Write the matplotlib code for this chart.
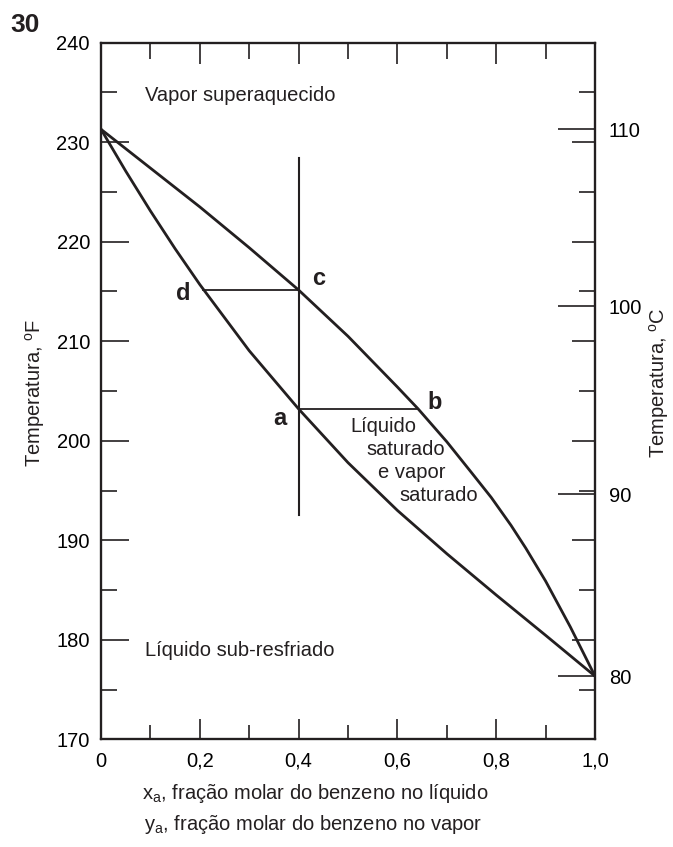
import matplotlib
matplotlib.use("Agg")
import matplotlib.pyplot as plt
from matplotlib.ticker import MultipleLocator

# benzene-toluene T-x-y diagram
# bubble point curve (saturated liquid): x_a, T in F
liq_x = [0.0, 0.05, 0.1, 0.15, 0.2, 0.3, 0.4, 0.5, 0.6, 0.7, 0.8, 0.9, 1.0]
liq_T = [231.3, 227.1, 223.1, 219.3, 215.7, 209.05, 203.2, 197.8, 193.0,
         188.65, 184.5, 180.45, 176.35]
# dew point curve (saturated vapor): y_a, T in F
vap_x = [0.0, 0.1, 0.2, 0.3, 0.4, 0.5, 0.6, 0.642, 0.7, 0.75, 0.79, 0.83,
         0.86, 0.9, 0.95, 1.0]
vap_T = [231.3, 227.4, 223.5, 219.4, 215.15, 210.5, 205.4, 203.2, 199.9,
         196.8, 194.3, 191.5, 189.2, 185.9, 181.3, 176.35]

# tie lines and the vertical composition line
x_feed = 0.4
feed_T = [192.5, 228.4]
tie_dc = ([0.207, 0.4], 215.15)
tie_ab = ([0.4, 0.642], 203.2)

# celsius ticks on the right, placed where the reference has them (in F)
celsius_labels = ["80", "90", "100", "110"]
celsius_at_F = [176.35, 194.6, 213.5, 231.3]

x_ticks = [0, 0.2, 0.4, 0.6, 0.8, 1.0]
x_ticklabels = ["0", "0,2", "0,4", "0,6", "0,8", "1,0"]
F_ticks = [170, 180, 190, 200, 210, 220, 230, 240]

plt.rcParams["font.family"] = ["Liberation Sans", "DejaVu Sans"]
plt.rcParams["mathtext.fontset"] = "custom"
plt.rcParams["mathtext.rm"] = "Liberation Sans"
plt.rcParams["mathtext.it"] = "Liberation Sans"
FS = 14.5
INK = "#231f20"

fig = plt.figure(figsize=(6.73, 8.47), dpi=100)
W, H = 673, 847
ax = fig.add_axes([101 / W, 1 - 739.3 / H, 494 / W, 696.6 / H])

ax.plot(liq_x, liq_T, color=INK, lw=2.0, solid_joinstyle="round")
ax.plot(vap_x, vap_T, color=INK, lw=2.0, solid_joinstyle="round")
ax.plot([x_feed, x_feed], feed_T, color=INK, lw=1.5)
ax.plot(tie_dc[0], [tie_dc[1]] * 2, color=INK, lw=1.3)
ax.plot(tie_ab[0], [tie_ab[1]] * 2, color=INK, lw=1.3)

ax.set_xlim(0, 1)
ax.set_ylim(170, 240)
for s in ax.spines.values():
    s.set_linewidth(1.5)
    s.set_color(INK)

# left (F) and bottom ticks
ax.set_yticks(F_ticks)
ax.yaxis.set_minor_locator(MultipleLocator(5))
ax.set_xticks(x_ticks)
ax.set_xticklabels(x_ticklabels)
ax.xaxis.set_minor_locator(MultipleLocator(0.1))
ax.tick_params(axis="y", which="major", direction="in", length=20, width=1.2,
               color=INK, labelsize=FS, pad=8, right=False)
ax.tick_params(axis="y", which="minor", direction="in", length=11.5, width=1.2,
               color=INK, right=False)
ax.tick_params(axis="x", which="major", direction="in", length=14.5, width=1.2,
               color=INK, labelsize=FS, pad=9, top=False)
ax.tick_params(axis="x", which="minor", direction="in", length=10, width=1.2,
               color=INK, top=False)

# top ticks
axt = ax.twiny()
axt.set_xlim(0, 1)
axt.set_xticks(x_ticks)
axt.xaxis.set_minor_locator(MultipleLocator(0.1))
axt.tick_params(axis="x", which="major", direction="in", length=15, width=1.2,
                color=INK, labeltop=False)
axt.tick_params(axis="x", which="minor", direction="in", length=11.5, width=1.2,
                color=INK)

# right: mirrored F ticks
axr = ax.twinx()
axr.set_ylim(170, 240)
axr.set_yticks(F_ticks)
axr.yaxis.set_minor_locator(MultipleLocator(5))
axr.tick_params(axis="y", which="major", direction="in", length=16.5, width=1.2,
                color=INK, labelright=False)
axr.tick_params(axis="y", which="minor", direction="in", length=11.5, width=1.2,
                color=INK)

# right: celsius ticks
axc = ax.twinx()
axc.set_ylim(170, 240)
axc.set_yticks(celsius_at_F)
axc.set_yticklabels(celsius_labels)
axc.yaxis.set_minor_locator(plt.NullLocator())
axc.tick_params(axis="y", direction="in", length=27, width=1.2, color=INK,
                labelsize=FS, pad=10)
for a in (axt, axr, axc):
    for s in a.spines.values():
        s.set_linewidth(1.5)
        s.set_color(INK)

# region labels
ax.text(0.089, 234.7, "Vapor superaquecido", fontsize=FS, color=INK,
        ha="left", va="center")
ax.text(0.089, 178.96, "Líquido sub-resfriado", fontsize=FS, color=INK,
        ha="left", va="center")
for (tx, ty, s) in [(0.571, 201.48, "Líquido"), (0.617, 199.13, "saturado"),
                    (0.629, 196.85, "e vapor"), (0.684, 194.54, "saturado")]:
    ax.text(tx, ty, s, fontsize=FS, color=INK, ha="center", va="center")

# point letters
for (tx, ty, s) in [(0.1666, 214.8, "d"), (0.441, 216.35, "c"),
                    (0.362, 202.28, "a"), (0.676, 203.8, "b")]:
    ax.text(tx, ty, s, fontsize=17, fontweight="bold", color=INK,
            ha="center", va="center")

# axis titles
fig.text(35 / W, 1 - 393 / H, r"Temperatura, $^{\mathrm{o}}$F", rotation=90,
         fontsize=FS, color=INK, ha="center", va="center")
fig.text(659 / W, 1 - 383 / H, r"Temperatura, $^{\mathrm{o}}$C", rotation=90,
         fontsize=FS, color=INK, ha="center", va="center")
fig.text(315 / W, 1 - 793 / H, r"x$_{\mathrm{a}}$, fração molar do benzeno no líquido",
         fontsize=FS, color=INK, ha="center", va="center")
fig.text(313 / W, 1 - 824 / H, r"y$_{\mathrm{a}}$, fração molar do benzeno no vapor",
         fontsize=FS, color=INK, ha="center", va="center")

fig.text(10 / W, 1 - 32 / H, "30", fontsize=19, fontweight="bold",
         color=INK, ha="left", va="baseline")

fig.savefig("out.png", dpi=100)
